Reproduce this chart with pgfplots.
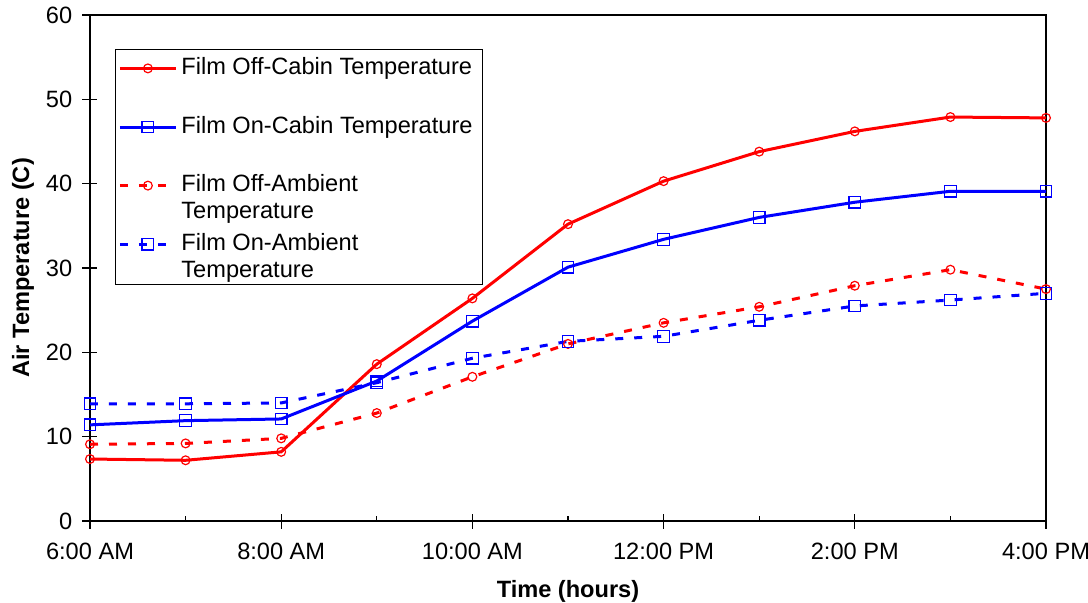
\documentclass[border=0pt]{standalone}
\usepackage{pgfplots}
\pgfplotsset{compat=1.18}
\usepackage{fontspec}
\setmainfont{Liberation Sans}
\definecolor{pRed}{RGB}{255,0,0}
\definecolor{pBlue}{RGB}{0,0,255}
\begin{document}
\fontsize{11.8}{14}\selectfont
\begin{tikzpicture}
\begin{axis}[
  at={(0,0)}, anchor=south west,
  scale only axis, width=478pt, height=253pt,
  xmin=6, xmax=16, ymin=0, ymax=60,
  xtick={6,8,10,12,14,16},
  xticklabels={6:00 AM,8:00 AM,10:00 AM,12:00 PM,2:00 PM,4:00 PM},
  extra x ticks={7,9,11,13,15},
  extra x tick labels={},
  extra x tick style={tick align=inside, major tick length=2.5pt},
  ytick={0,10,20,30,40,50,60},
  xtick pos=bottom, ytick pos=left,
  tick align=center, major tick length=7.5pt,
  tick style={black, line width=0.6pt},
  axis line style={line width=0.6pt},
  /pgf/number format/assume math mode=true,
  ticklabel style={font=\fontsize{11.8}{14}\selectfont},
  xticklabel style={yshift=-3pt},
  yticklabel style={xshift=-1pt},
  xlabel={\textbf{Time (hours)}},
  ylabel={\textbf{Air Temperature (C)}},
  xlabel style={at={(axis description cs:0.5,-0.1383)}, anchor=center, font=\fontsize{11.8}{14}\selectfont},
  ylabel style={at={(axis description cs:-0.0701,0.5)}, anchor=center, font=\fontsize{11.8}{14}\selectfont},
  legend cell align=left,
  legend style={at={(12.5pt,236pt)}, anchor=north west, draw=none, fill=none, name=leg,
    font=\fontsize{11.8}{14}\selectfont,
    inner xsep=1.5pt, inner ysep=4pt,
    nodes={inner sep=0pt, text height=8.5pt, text depth=2.5pt},
    column sep=2pt, row sep=18.3pt},
  legend image code/.code={\draw[mark repeat=2,mark phase=2,#1] plot coordinates {(0pt,0pt) (14pt,0pt) (28pt,0pt)};},
]
\addplot[pRed, line width=1.5pt, mark=o, mark size=2.2pt, mark options={solid, line width=0.6pt}] coordinates {
(6,7.35) (7,7.2) (8,8.2) (9,18.6) (10,26.4) (11,35.2) (12,40.3) (13,43.8) (14,46.2) (15,47.9) (16,47.8)};
\addlegendentry{Film Off-Cabin Temperature}
\addplot[pBlue, line width=1.5pt, mark=square, mark size=2.9pt, mark options={solid, line width=0.6pt}] coordinates {
(6,11.4) (7,11.9) (8,12.1) (9,16.6) (10,23.7) (11,30.1) (12,33.4) (13,36.0) (14,37.8) (15,39.1) (16,39.1)};
\addlegendentry{Film On-Cabin Temperature}
\addplot[pRed, line width=1.5pt, dash pattern=on 4pt off 5.5pt, mark=o, mark size=2.2pt, mark options={solid, line width=0.6pt}] coordinates {
(6,9.1) (7,9.2) (8,9.8) (9,12.8) (10,17.1) (11,21.0) (12,23.5) (13,25.4) (14,27.9) (15,29.8) (16,27.5)};
\addlegendentry{\makebox[0pt][l]{\raisebox{-13.5pt}[0pt][0pt]{Temperature}}Film Off-Ambient}
\addplot[pBlue, line width=1.5pt, dash pattern=on 4pt off 5.5pt, mark=square, mark size=2.9pt, mark options={solid, line width=0.6pt}] coordinates {
(6,13.9) (7,13.9) (8,14.0) (9,16.4) (10,19.3) (11,21.3) (12,21.9) (13,23.8) (14,25.5) (15,26.2) (16,27.0)};
\addlegendentry{\makebox[0pt][l]{\raisebox{-13.5pt}[0pt][0pt]{Temperature}}Film On-Ambient}
\end{axis}
\draw[line width=0.5pt] (leg.north west) rectangle ([xshift=3.5pt,yshift=-10.5pt]leg.south east);
\pgfresetboundingbox
\useasboundingbox (-45pt,-40.5pt) rectangle (499pt,260.5pt);
\end{tikzpicture}
\end{document}
